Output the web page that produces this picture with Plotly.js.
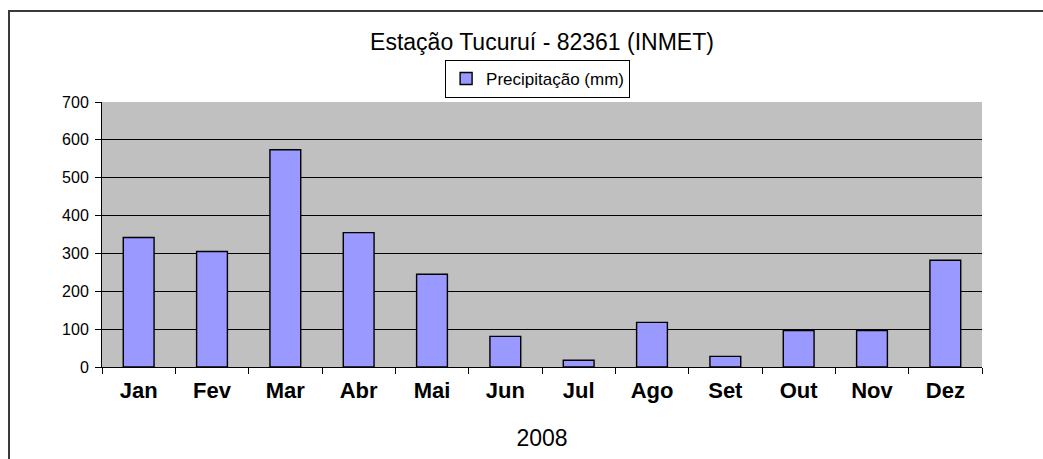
<!DOCTYPE html>
<html>
<head>
<meta charset="utf-8">
<script src="https://cdn.plot.ly/plotly-3.0.1.min.js"></script>
<style>
  body { margin: 0; padding: 0; background: #fff; }
  #wrap { position: relative; width: 1043px; height: 459px; overflow: hidden; }
  #chart { position: absolute; left: 0; top: 0; width: 1043px; height: 459px; }
  #frame { position: absolute; left: 8px; top: 10px; width: 2000px; height: 2000px;
           border-left: 2px solid #3a3a3a; border-top: 2px solid #3a3a3a; pointer-events: none; }
</style>
</head>
<body>
<div id="wrap">
  <div id="chart"></div>
  <div id="frame"></div>
</div>
<script>
const months = ["Jan", "Fev", "Mar", "Abr", "Mai", "Jun", "Jul", "Ago", "Set", "Out", "Nov", "Dez"];
const precipitation = [342, 305, 574, 355, 245, 81, 18, 118, 28, 96, 96, 282];
const seriesName = "Precipitação (mm)";
const chartTitle = "Estação Tucuruí - 82361 (INMET)";
const xTitle = "2008";
const yTicks = [0, 100, 200, 300, 400, 500, 600, 700];

const trace = {
  type: "bar",
  x: months,
  y: precipitation,
  name: seriesName,
  width: 0.42,
  marker: { color: "#9999FF", line: { color: "#000000", width: 1.4 } },
  showlegend: true
};

const layout = {
  width: 1043,
  height: 459,
  margin: { l: 102, r: 61, t: 102, b: 92 },
  paper_bgcolor: "rgba(0,0,0,0)",
  plot_bgcolor: "#C0C0C0",
  font: { family: "Liberation Sans, Arial, sans-serif", color: "#000" },
  title: {
    text: chartTitle,
    font: { size: 23, color: "#000", family: "Liberation Sans, Arial, sans-serif" },
    x: 0.5, xanchor: "center", xref: "paper",
    y: 1 - 42 / 459, yanchor: "middle", yref: "container"
  },
  showlegend: true,
  legend: {
    orientation: "h",
    x: 0.495, xanchor: "center",
    y: (367 - 79) / 265, yanchor: "middle",
    bgcolor: "#FFFFFF",
    bordercolor: "#000000",
    borderwidth: 1,
    font: { size: 17, color: "#000" },
    itemwidth: 30
  },
  xaxis: {
    type: "category",
    showline: true, linecolor: "#000", linewidth: 1,
    ticks: "outside", tickson: "boundaries", ticklen: 6, tickcolor: "#000", tickwidth: 1,
    tickfont: { size: 22, color: "#000", weight: "bold" },
    ticklabelstandoff: 4,
    showgrid: false,
    title: { text: xTitle, font: { size: 23, color: "#000" }, standoff: 27 },
    fixedrange: true
  },
  yaxis: {
    range: [0, 700],
    tickvals: yTicks,
    ticktext: yTicks.map(String),
    showline: true, linecolor: "#000", linewidth: 1,
    ticks: "outside", ticklen: 6, tickcolor: "#000", tickwidth: 1,
    tickfont: { size: 16, color: "#000" },
    ticklabelstandoff: 3,
    showgrid: true, gridcolor: "#000", gridwidth: 1.2,
    zeroline: false,
    fixedrange: true
  },
  bargap: 0.58
};

Plotly.newPlot("chart", [trace], layout, { displayModeBar: false, staticPlot: true });
</script>
</body>
</html>
